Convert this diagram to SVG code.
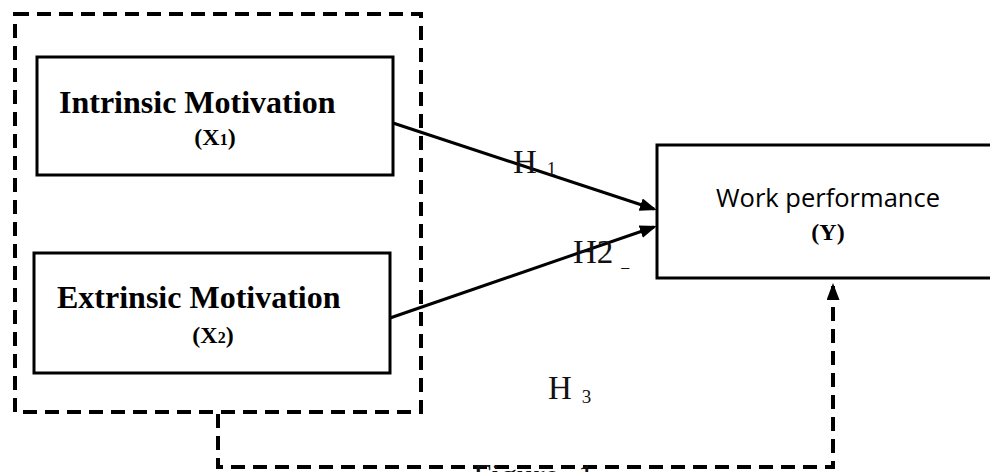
<svg xmlns="http://www.w3.org/2000/svg" width="990" height="472" viewBox="0 0 990 472">
  <style>
    .box { fill: #fff; stroke: #000; stroke-width: 3; }
    .group { fill: none; stroke: #000; stroke-width: 4; stroke-dasharray: 14 8; }
    .edge { fill: none; stroke: #000; stroke-width: 3; }
    .dashed { fill: none; stroke: #000; stroke-width: 4; stroke-dasharray: 14 8; }
    .title { font-family: "Liberation Serif", "Times New Roman", serif; font-weight: bold; font-size: 32px; fill: #000; }
    .code { font-family: "Liberation Serif", "Times New Roman", serif; font-weight: bold; font-size: 24px; fill: #000; text-anchor: middle; }
    .sans { font-family: "Open Sans", "Liberation Sans", sans-serif; font-size: 25.5px; fill: #000; text-anchor: middle; }
    .hyp { font-family: "Liberation Serif", "Times New Roman", serif; font-size: 33px; fill: #111; }
    .sub { font-size: 19px; }
  </style>
  <defs>
    <marker id="arrow" markerUnits="userSpaceOnUse" markerWidth="18" markerHeight="14" refX="14" refY="6.5" orient="auto">
      <path d="M0,0 L17,6.5 L0,13 z" fill="#000"/>
    </marker>
  </defs>

  <rect width="990" height="472" fill="#fff"/>

  <!-- dashed grouping of the two motivation variables -->
  <g id="motivation-group">
    <rect class="group" x="15" y="14" width="406" height="398"/>
  </g>

  <g id="intrinsic">
    <rect class="box" x="37" y="57" width="356" height="118"/>
    <text class="title" x="59" y="113">Intrinsic Motivation</text>
    <text class="code" x="215" y="145">(X<tspan font-size="16">1</tspan>)</text>
  </g>

  <g id="extrinsic">
    <rect class="box" x="34" y="253" width="356" height="120"/>
    <text class="title" x="57" y="308">Extrinsic Motivation</text>
    <text class="code" x="213" y="343">(X<tspan font-size="16">2</tspan>)</text>
  </g>

  <g id="performance">
    <rect class="box" x="657" y="145" width="345" height="133"/>
    <text class="sans" x="828" y="207">Work performance</text>
    <text class="code" x="828" y="240" font-size="27">(Y)</text>
  </g>

  <g id="connectors">
    <line class="edge" x1="393" y1="123" x2="654" y2="209" marker-end="url(#arrow)"/>
    <line class="edge" x1="390" y1="318" x2="654" y2="227" marker-end="url(#arrow)"/>
    <path class="dashed" d="M218,414 V467 H833 V286" marker-end="url(#arrow)"/>
  </g>

  <g id="labels">
    <text class="hyp" x="513" y="173">H<tspan class="sub" dx="10" dy="2">1</tspan></text>
    <text class="hyp" x="573" y="263">H2<tspan font-size="16" dx="8" dy="4">_</tspan></text>
    <text class="hyp" x="548" y="399">H<tspan class="sub" dx="10" dy="4">3</tspan></text>
    <text class="hyp" font-size="22" x="473" y="487">Figure<tspan x="578">1</tspan></text>
  </g>
</svg>
